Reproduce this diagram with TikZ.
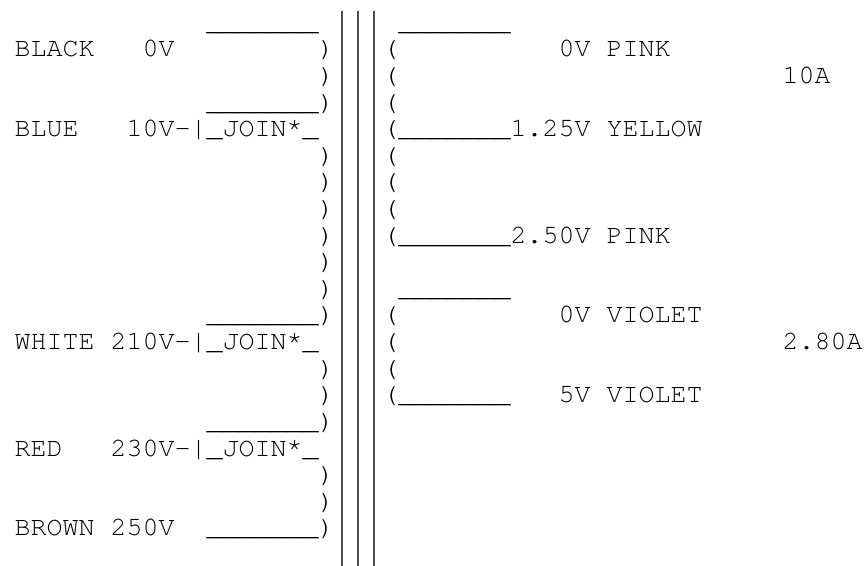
\documentclass[tikz,border=0pt]{standalone}
\usepackage{fontspec}
\newfontfamily\wirefont{TeX Gyre Cursor}

\tikzset{every picture/.style={line width=0.75pt}}
\tikzset{wire/.style={anchor=base west,inner sep=0pt,font=\wirefont\fontsize{20}{20}\selectfont}}
\tikzset{core/.style={line width=1.5pt,color=black!70}}

\begin{document}
\begin{tikzpicture}[x=0.75pt,y=0.75pt,yscale=-1,xscale=1]
\useasboundingbox (0,0) rectangle (864,566); %set diagram left start at 0, and has height of 566

%Straight Lines [id:core1] 
\draw [core]   (342,11) -- (342,566) ;
%Straight Lines [id:core2] 
\draw [core]   (358,11) -- (358,566) ;
%Straight Lines [id:core3] 
\draw [core]   (374,11) -- (374,566) ;

% Text Node
\node [wire] (priTop) at (206,30.4) {\_\_\_\_\_\_\_};
% Text Node
\node [wire] (black) at (14,57) {BLACK};
% Text Node
\node [wire] (blackV) at (142,57) {0V};
% Text Node
\node [wire] (pri1) at (318,57) {)};
% Text Node
\node [wire] (pri2) at (318,83.6) {)};
% Text Node
\node [wire] (pri3) at (206,110.2) {\_\_\_\_\_\_\_)};
% Text Node
\node [wire] (blue) at (14,136.8) {BLUE};
% Text Node
\node [wire] (blueV) at (126,136.8) {10V-|\_JOIN*\_};
% Text Node
\node [wire] (pri5) at (318,163.4) {)};
% Text Node
\node [wire] (pri6) at (318,190) {)};
% Text Node
\node [wire] (pri7) at (318,216.6) {)};
% Text Node
\node [wire] (pri8) at (318,243.2) {)};
% Text Node
\node [wire] (pri9) at (318,269.8) {)};
% Text Node
\node [wire] (pri10) at (318,296.4) {)};
% Text Node
\node [wire] (pri11) at (206,323) {\_\_\_\_\_\_\_)};
% Text Node
\node [wire] (white) at (14,349.6) {WHITE};
% Text Node
\node [wire] (whiteV) at (110,349.6) {210V-|\_JOIN*\_};
% Text Node
\node [wire] (pri13) at (318,376.2) {)};
% Text Node
\node [wire] (pri14) at (318,402.8) {)};
% Text Node
\node [wire] (pri15) at (206,429.4) {\_\_\_\_\_\_\_)};
% Text Node
\node [wire] (red) at (14,456) {RED};
% Text Node
\node [wire] (redV) at (110,456) {230V-|\_JOIN*\_};
% Text Node
\node [wire] (pri17) at (318,482.6) {)};
% Text Node
\node [wire] (pri18) at (318,509.2) {)};
% Text Node
\node [wire] (brown) at (14,535.8) {BROWN};
% Text Node
\node [wire] (brownV) at (110,535.8) {250V};
% Text Node
\node [wire] (pri19) at (206,535.8) {\_\_\_\_\_\_\_)};

% Text Node
\node [wire] (secTop) at (398,30.4) {\_\_\_\_\_\_\_};
% Text Node
\node [wire] (sec1) at (382,57) {(};
% Text Node
\node [wire] (pinkA) at (558,57) {0V PINK};
% Text Node
\node [wire] (sec2) at (382,83.6) {(};
% Text Node
\node [wire] (ampA) at (782,83.6) {10A};
% Text Node
\node [wire] (sec3) at (382,110.2) {(};
% Text Node
\node [wire] (yellow) at (382,136.8) {(\_\_\_\_\_\_\_1.25V YELLOW};
% Text Node
\node [wire] (sec5) at (382,163.4) {(};
% Text Node
\node [wire] (sec6) at (382,190) {(};
% Text Node
\node [wire] (sec7) at (382,216.6) {(};
% Text Node
\node [wire] (pinkB) at (382,243.2) {(\_\_\_\_\_\_\_2.50V PINK};
% Text Node
\node [wire] (secMid) at (398,296.4) {\_\_\_\_\_\_\_};
% Text Node
\node [wire] (sec11) at (382,323) {(};
% Text Node
\node [wire] (violetA) at (558,323) {0V VIOLET};
% Text Node
\node [wire] (sec12) at (382,349.6) {(};
% Text Node
\node [wire] (ampB) at (782,349.6) {2.80A};
% Text Node
\node [wire] (sec13) at (382,376.2) {(};
% Text Node
\node [wire] (sec14) at (382,402.8) {(\_\_\_\_\_\_\_};
% Text Node
\node [wire] (violetB) at (558,402.8) {5V VIOLET};

\end{tikzpicture}
\end{document}
